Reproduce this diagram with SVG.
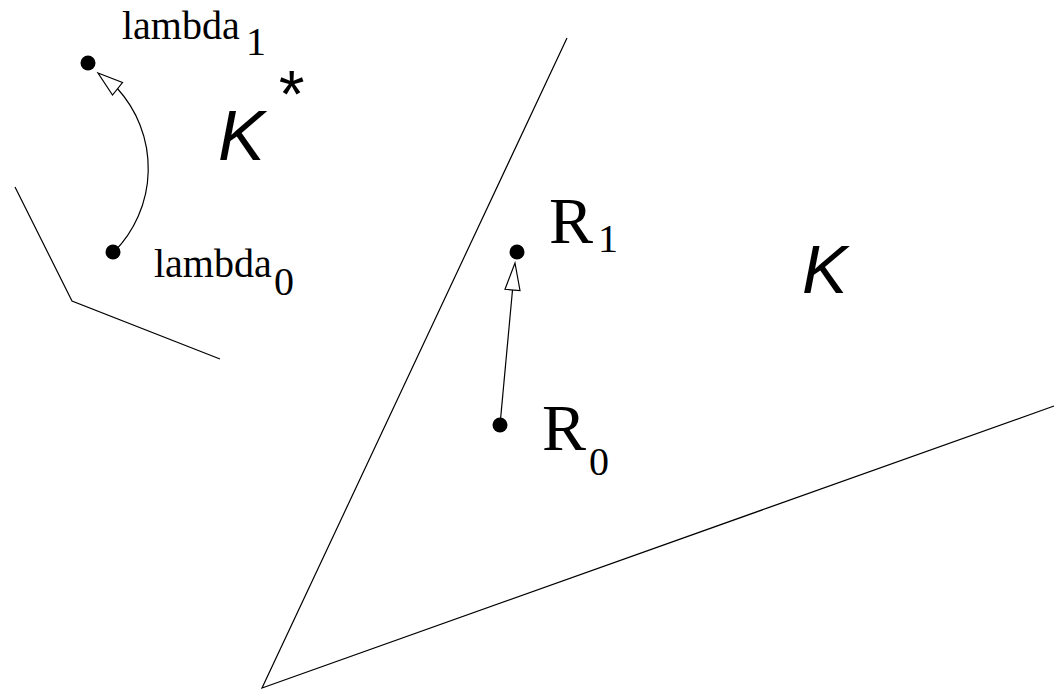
<svg xmlns="http://www.w3.org/2000/svg" width="1055" height="690" viewBox="0 0 1055 690">
<style>
.ln{fill:none;stroke:#000;stroke-width:1.2}
.dot{fill:#000}
.ah{fill:#fff;stroke:#000;stroke-width:1.2;stroke-linejoin:miter}
.serif{font-family:"Liberation Serif","Times New Roman",serif;fill:#000}
.sans{font-family:"Liberation Sans",Arial,sans-serif;font-style:italic;fill:#000}
</style>
<rect width="1055" height="690" fill="#fff"/>
<g id="boundaries">
<polyline class="ln" points="15,187 72,301 220,359"/>
<polyline class="ln" points="567,38 262,688 1054,406"/>
</g>
<g id="connectors">
<path class="ln" d="M114,252 A119,119 0 0 0 117.4,88.5"/>
<polygon class="ah" points="98,73 122.5,82.5 112.5,95"/>
<line class="ln" x1="500" y1="425" x2="512.5" y2="290"/>
<polygon class="ah" points="515,263 520,290.5 505,289.3"/>
</g>
<g id="lambda1">
<circle class="dot" cx="88" cy="63" r="7.5"/>
<text class="serif" x="122" y="39" font-size="40">lambda</text>
<text class="serif" x="246" y="55" font-size="40">1</text>
</g>
<g id="lambda0">
<circle class="dot" cx="113" cy="252" r="7.5"/>
<text class="serif" x="154" y="277" font-size="40">lambda</text>
<text class="serif" x="274" y="295" font-size="40">0</text>
</g>
<g id="R1">
<circle class="dot" cx="517" cy="252" r="7.5"/>
<text class="serif" x="549" y="243" font-size="66">R</text>
<text class="serif" x="598" y="252" font-size="40">1</text>
</g>
<g id="R0">
<circle class="dot" cx="500" cy="425" r="7.5"/>
<text class="serif" x="542" y="450" font-size="66">R</text>
<text class="serif" x="589" y="475" font-size="40">0</text>
</g>
<g id="Kstar">
<text class="sans" x="218" y="160" font-size="70">K</text>
<text class="sans" x="276" y="117" font-size="66" font-style="normal">*</text>
</g>
<g id="K">
<text class="sans" x="802" y="293" font-size="68">K</text>
</g>
</svg>
